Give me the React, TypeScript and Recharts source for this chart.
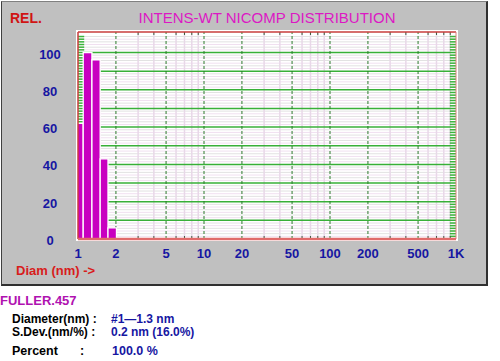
import React from 'react';
import { ComposedChart, XAxis, YAxis, ReferenceArea, ReferenceLine } from 'recharts';

// size bins (nm) and relative intensity
const binLow = [0.94, 1.1, 1.29, 1.5, 1.73];
const binHigh = [1.1, 1.29, 1.5, 1.73, 2.02];
const relIntensity = [62, 100, 96, 43, 6];

const xTicks = [1, 2, 5, 10, 20, 50, 100, 200, 500, 1000];
const xMinor = [3, 4, 6, 7, 8, 9, 30, 40, 60, 70, 80, 90, 300, 400, 600, 700, 800, 900];
const yTicks = [0, 20, 40, 60, 80, 100];
const yGreen = [10, 20, 30, 40, 50, 60, 70, 80, 90, 100];
const Y_MAX = 111;

// fine background rules, about every 2.7 px
const yFine: number[] = [];
for (let k = 1; k * 10 / 7 < Y_MAX; k++) {
  if (k % 7 !== 0) yFine.push((k * 10) / 7);
}

const bins = binLow.map((lo, i) => ({ lo, hi: binHigh[i], value: relIntensity[i] }));

const FONT = '"Liberation Sans", Arial, sans-serif';
const BLUE = '#1616a2';

const XTick = (props: any) => {
  const { x, y, payload } = props;
  const label = payload.value === 1000 ? '1K' : String(payload.value);
  return (
    <text x={x} y={y} dy={11} textAnchor="middle" fill={BLUE} fontSize={13} fontWeight="bold" fontFamily={FONT}>
      {label}
    </text>
  );
};

const YTick = (props: any) => {
  const { x, y, payload } = props;
  return (
    <text x={x - 20} y={y} dy={6} textAnchor="middle" fill={BLUE} fontSize={13} fontWeight="bold" fontFamily={FONT}>
      {payload.value}
    </text>
  );
};

const txt = (left: number, top: number, color: string, s: string, extra: any = {}) => (
  <div
    style={{
      position: 'absolute',
      left,
      top,
      fontFamily: FONT,
      fontSize: 13,
      fontWeight: 'bold',
      color,
      lineHeight: 1,
      whiteSpace: 'nowrap',
      ...extra,
    }}
  >
    {s}
  </div>
);

export default function App() {
  return (
    <div style={{ position: 'absolute', left: 0, top: 0, width: 500, height: 361, background: '#fff', overflow: 'hidden' }}>
      {/* grey instrument panel */}
      <div
        style={{
          position: 'absolute',
          left: 1,
          top: 1,
          width: 484,
          height: 282,
          background: '#c0c0c0',
          borderLeft: '1px solid #404040',
          borderTop: '1px solid #808080',
          borderRight: '2px solid #303030',
          borderBottom: '2px solid #303030',
        }}
      />
      <div style={{ position: 'absolute', left: 76, top: 30, width: 382, height: 211, background: '#fff' }} />

      {txt(10, 11, '#d01414', 'REL.', { fontSize: 14 })}
      {txt(127, 10, '#dc18c4', 'INTENS-WT NICOMP DISTRIBUTION', { fontSize: 15, fontWeight: 'normal', width: 280, textAlign: 'center' })}
      {txt(16, 264, '#d81c1c', 'Diam (nm) ->')}

      <div style={{ position: 'absolute', left: 0, top: 0 }}>
        <ComposedChart width={500} height={290} data={bins} margin={{ top: 32, right: 44, bottom: 21, left: 38 }}>
          <XAxis
            dataKey="lo"
            type="number"
            scale="log"
            domain={[1, 1000]}
            allowDataOverflow
            ticks={xTicks}
            interval={0}
            height={30}
            tickLine={false}
            axisLine={false}
            tick={<XTick />}
          />
          <YAxis
            type="number"
            domain={[0, Y_MAX]}
            allowDataOverflow
            ticks={yTicks}
            interval={0}
            width={40}
            tickLine={false}
            axisLine={false}
            tick={<YTick />}
          />

          {yFine.map((v, i) => (
            <ReferenceLine key={'hf' + i} y={v} stroke={i % 2 ? '#e2e2e2' : '#f0e0f0'} strokeWidth={1} zIndex={100} />
          ))}
          {xMinor.map((v) => (
            <ReferenceLine key={'vf' + v} x={v} stroke="#e8d8e8" strokeWidth={1.5} zIndex={101} />
          ))}
          {yGreen.map((v) => (
            <ReferenceLine key={'hg' + v} y={v} stroke="#38b038" strokeWidth={1.5} zIndex={102} />
          ))}
          {xTicks.slice(1, -1).map((v) => (
            <ReferenceLine key={'vg' + v} x={v} stroke="#2a7a2a" strokeWidth={1} strokeDasharray="3 2" zIndex={103} />
          ))}

          {bins.map((b, i) => (
            <ReferenceArea
              key={'bar' + i}
              x1={b.lo}
              x2={b.hi}
              y1={0}
              y2={b.value}
              ifOverflow="hidden"
              fill="#c800c0"
              fillOpacity={1}
              stroke="#ffffff"
              strokeWidth={1.3}
              zIndex={600}
            />
          ))}

          {/* short green stubs along left and right edges */}
          {yFine.map((v, i) => (
            <ReferenceLine key={'sl' + i} segment={[{ x: 1, y: v }, { x: 1.12, y: v }]} stroke="#3cb43c" strokeWidth={1.5} zIndex={500} />
          ))}
          {yFine.map((v, i) => (
            <ReferenceLine key={'sr' + i} segment={[{ x: 893, y: v }, { x: 1000, y: v }]} stroke="#3cb43c" strokeWidth={1.5} zIndex={500} />
          ))}
          {/* minor log ticks at top and bottom */}
          {xMinor.map((v) => (
            <ReferenceLine key={'tb' + v} segment={[{ x: v, y: 0 }, { x: v, y: 1.6 }]} stroke="#3a5a3a" strokeWidth={1} zIndex={500} />
          ))}
          {xMinor.map((v) => (
            <ReferenceLine key={'tt' + v} segment={[{ x: v, y: Y_MAX - 1.6 }, { x: v, y: Y_MAX }]} stroke="#3a5a3a" strokeWidth={1} zIndex={500} />
          ))}

          {/* plot frame */}
          <ReferenceLine y={Y_MAX} stroke="#c83c3c" strokeWidth={1.5} zIndex={700} />
          <ReferenceLine x={1000} stroke="#e08080" strokeWidth={1} zIndex={700} />
          <ReferenceLine x={1} stroke="#c83c3c" strokeWidth={1.5} zIndex={700} />
          <ReferenceLine y={0} stroke="#e06a6a" strokeWidth={2.5} zIndex={700} />
        </ComposedChart>
      </div>

      {txt(0, 294, '#b012b0', 'FULLER.457')}
      {txt(12, 313, '#000', 'Diameter(nm) :', { fontSize: 12 })}
      {txt(111, 313, BLUE, '#1—1.3 nm', { fontSize: 12 })}
      {txt(12, 326, '#000', 'S.Dev.(nm/%) :', { fontSize: 12 })}
      {txt(111, 326, BLUE, '0.2 nm (16.0%)', { fontSize: 12 })}
      {txt(12, 345, '#000', 'Percent', { fontSize: 12.5 })}
      {txt(80, 345, '#000', ':', { fontSize: 12.5 })}
      {txt(112, 345, BLUE, '100.0 %', { fontSize: 12.5 })}
    </div>
  );
}
